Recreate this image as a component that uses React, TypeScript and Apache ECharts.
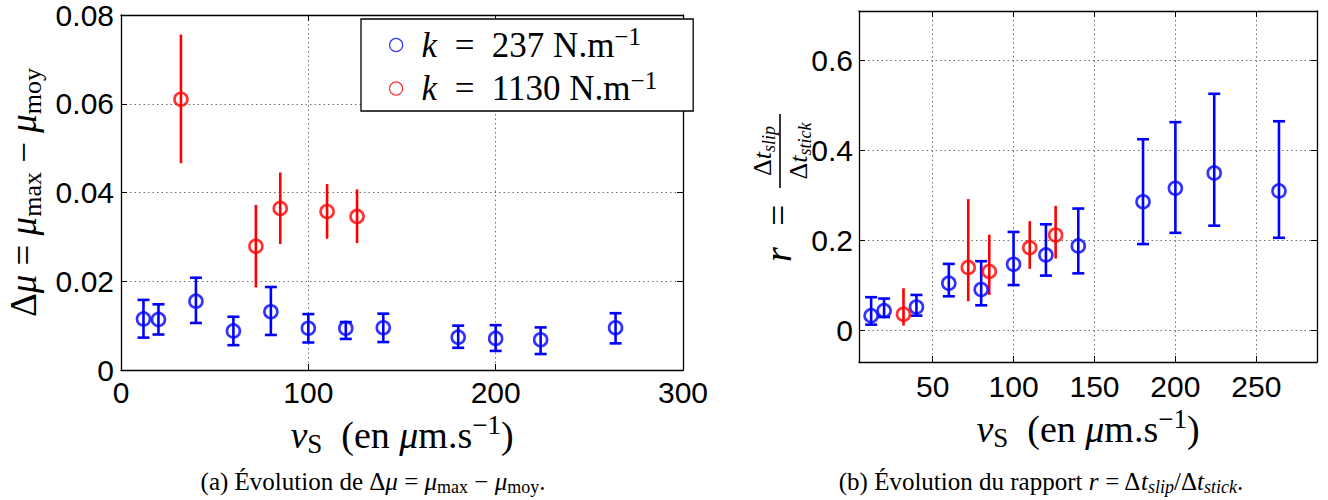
import React, { useEffect, useRef } from 'react';
import * as echarts from 'echarts';

// ---------- data ----------
// (a) Δμ = μmax − μmoy versus v_S
const blueXA = [12, 20, 40, 60, 80, 100, 120, 140, 180, 200, 224, 264];
const blueYA = [0.0115, 0.0114, 0.0155, 0.0088, 0.0131, 0.0094, 0.0094, 0.0095, 0.0074, 0.0071, 0.0068, 0.0095];
const blueLoA = [0.0073, 0.008, 0.0106, 0.0056, 0.0079, 0.0062, 0.007, 0.0063, 0.005, 0.0043, 0.0036, 0.006];
const blueHiA = [0.0158, 0.0148, 0.0208, 0.012, 0.0187, 0.0126, 0.0108, 0.0127, 0.01, 0.0101, 0.0096, 0.0128];
const redXA = [32, 72, 85, 110, 126];
const redYA = [0.061, 0.0279, 0.0364, 0.0357, 0.0346];
const redLoA = [0.0466, 0.0186, 0.0284, 0.0296, 0.0286];
const redHiA = [0.0756, 0.0372, 0.0445, 0.0419, 0.0407];

// (b) r = Δt_slip / Δt_stick versus v_S
const blueXB = [12, 20, 40, 60, 80, 100, 120, 140, 180, 200, 224, 264];
const blueYB = [0.033, 0.044, 0.052, 0.105, 0.091, 0.147, 0.168, 0.188, 0.286, 0.316, 0.35, 0.31];
const blueLoB = [0.013, 0.03, 0.033, 0.076, 0.056, 0.101, 0.122, 0.127, 0.192, 0.217, 0.233, 0.206];
const blueHiB = [0.074, 0.071, 0.079, 0.148, 0.154, 0.219, 0.236, 0.271, 0.425, 0.463, 0.526, 0.465];
const redXB = [32, 72, 85, 110, 126];
const redYB = [0.036, 0.14, 0.131, 0.184, 0.212];
const redLoB = [0.011, 0.065, 0.079, 0.137, 0.16];
const redHiB = [0.094, 0.292, 0.213, 0.243, 0.277];

// axes / ticks
const xTicksA = [0, 100, 200, 300];
const yTicksA = [0, 0.02, 0.04, 0.06, 0.08];
const xTicksB = [50, 100, 150, 200, 250];
const yTicksB = [0, 0.2, 0.4, 0.6];
const xRangeB = [4.5, 287.5];
const yRangeB = [-0.07, 0.71];

// legend
const stiffness = [237, 1130];
const seriesNames = stiffness.map((k) => `k = ${k} N.m⁻¹`);

const BLUE = '#0000ff';
const RED = '#ff0000';
const SANS = "'Liberation Sans', Arial, Helvetica, sans-serif";
const SERIF = "'Liberation Serif', 'Times New Roman', serif";

function richSet(size: number) {
  const lh = Math.round(size * 1.2);
  const small = Math.round(size * 0.7);
  return {
    n: { fontFamily: SERIF, fontSize: size, lineHeight: lh, color: '#000' },
    i: { fontFamily: SERIF, fontSize: size, lineHeight: lh, fontStyle: 'italic', color: '#000' },
    sub: { fontFamily: SERIF, fontSize: small, lineHeight: small, verticalAlign: 'bottom', color: '#000' },
    subi: { fontFamily: SERIF, fontSize: small, lineHeight: small, verticalAlign: 'bottom', fontStyle: 'italic', color: '#000' },
    sup: { fontFamily: SERIF, fontSize: small, lineHeight: small, verticalAlign: 'top', color: '#000' },
    g: { width: 14, fontSize: size, lineHeight: lh },
  };
}

const xTitle = '{i|v}{sub|S}{n|  (en }{i|μ}{n|m.s}{sup|−1}{n|)}';

function errorSeries(xs: number[], lo: number[], hi: number[], color: string, caps: boolean, axisIndex: number) {
  return {
    type: 'custom',
    xAxisIndex: axisIndex,
    yAxisIndex: axisIndex,
    silent: true,
    z: 2,
    data: xs.map((x, k) => [x, lo[k], hi[k]]),
    encode: { x: 0, y: [1, 2] },
    renderItem: (params: any, api: any) => {
      const x = api.value(0);
      const top = api.coord([x, api.value(2)]);
      const bot = api.coord([x, api.value(1)]);
      const st = { stroke: color, lineWidth: 2.6 };
      const children: any[] = [
        { type: 'line', shape: { x1: top[0], y1: top[1], x2: bot[0], y2: bot[1] }, style: st },
      ];
      if (caps) {
        const w = 6;
        children.push({ type: 'line', shape: { x1: top[0] - w, y1: top[1], x2: top[0] + w, y2: top[1] }, style: st });
        children.push({ type: 'line', shape: { x1: bot[0] - w, y1: bot[1], x2: bot[0] + w, y2: bot[1] }, style: st });
      }
      return { type: 'group', children };
    },
  };
}

function pointSeries(name: string, xs: number[], ys: number[], color: string, axisIndex: number) {
  return {
    type: 'scatter',
    name,
    xAxisIndex: axisIndex,
    yAxisIndex: axisIndex,
    symbol: 'circle',
    symbolSize: 13,
    z: 3,
    itemStyle: { color: 'rgba(0,0,0,0)', borderColor: color, borderWidth: 2.6 },
    data: xs.map((x, k) => [x, ys[k]]),
  };
}

const gridLine = { show: true, lineStyle: { color: '#707070', type: [1.5, 3], width: 1 } };
const axisLine = { show: true, onZero: false, lineStyle: { color: '#000', width: 1.3 } };
const axisTick = { show: true, inside: true, length: 6, lineStyle: { color: '#000', width: 1 } };
const tickLabel = { color: '#000', fontSize: 30, fontFamily: SANS };

export default function App() {
  const ref = useRef<HTMLDivElement>(null);

  useEffect(() => {
    if (!ref.current) return;
    const chart = echarts.init(ref.current, null, { renderer: 'svg' });

    const xa = {
      min: xTicksA[0],
      max: xTicksA[xTicksA.length - 1],
      interval: xTicksA[1] - xTicksA[0],
    };
    const ya = {
      min: yTicksA[0],
      max: yTicksA[yTicksA.length - 1],
      interval: yTicksA[1] - yTicksA[0],
    };
    const xb = {
      min: xRangeB[0],
      max: xRangeB[1],
      splitNumber: 5,
      minInterval: xTicksB[1] - xTicksB[0],
      maxInterval: xTicksB[1] - xTicksB[0],
    };
    const yb = {
      min: yRangeB[0],
      max: yRangeB[1],
      splitNumber: 4,
      minInterval: yTicksB[1] - yTicksB[0],
      maxInterval: yTicksB[1] - yTicksB[0],
    };

    const captionStyle = {
      rich: richSet(25),
      fontSize: 25,
      fontFamily: SERIF,
      fill: '#000',
      align: 'center',
      textAlign: 'center',
      verticalAlign: 'middle',
      textVerticalAlign: 'middle',
    };

    const option: any = {
      animation: false,
      backgroundColor: '#fff',
      grid: [
        { left: 121, top: 15, width: 562, height: 355 },
        { left: 859, top: 11, width: 458, height: 351 },
      ],
      xAxis: [
        {
          type: 'value', gridIndex: 0, position: 'bottom', ...xa,
          axisLine, axisTick, splitLine: gridLine,
          axisLabel: { ...tickLabel, margin: 7 },
          name: xTitle, nameLocation: 'middle', nameGap: 30,
          nameTextStyle: { fontSize: 38, fontFamily: SERIF, color: '#000', rich: richSet(38) },
        },
        {
          type: 'value', gridIndex: 0, position: 'top', ...xa,
          axisLine, axisTick, splitLine: { show: false }, axisLabel: { show: false },
        },
        {
          type: 'value', gridIndex: 1, position: 'bottom', ...xb,
          axisLine, axisTick, splitLine: gridLine,
          axisLabel: { ...tickLabel, margin: 9, showMinLabel: false, showMaxLabel: false },
          name: xTitle, nameLocation: 'middle', nameGap: 35,
          nameTextStyle: { fontSize: 38, fontFamily: SERIF, color: '#000', rich: richSet(38) },
        },
        {
          type: 'value', gridIndex: 1, position: 'top', ...xb,
          axisLine, axisTick, splitLine: { show: false }, axisLabel: { show: false },
        },
      ],
      yAxis: [
        {
          type: 'value', gridIndex: 0, position: 'left', ...ya,
          axisLine, axisTick, splitLine: gridLine,
          axisLabel: { ...tickLabel, margin: 7 },
          name: '{n|Δ}{i|μ}{n| = }{i|μ}{sub|max}{n| − }{i|μ}{sub|moy}',
          nameLocation: 'middle', nameGap: 76,
          nameTextStyle: { fontSize: 37, fontFamily: SERIF, color: '#000', rich: richSet(37) },
        },
        {
          type: 'value', gridIndex: 0, position: 'right', ...ya,
          axisLine, axisTick, splitLine: { show: false }, axisLabel: { show: false },
        },
        {
          type: 'value', gridIndex: 1, position: 'left', ...yb,
          axisLine, axisTick, splitLine: gridLine,
          axisLabel: { ...tickLabel, margin: 6, showMinLabel: false, showMaxLabel: false },
        },
        {
          type: 'value', gridIndex: 1, position: 'right', ...yb,
          axisLine, axisTick, splitLine: { show: false }, axisLabel: { show: false },
        },
      ],
      legend: {
        data: seriesNames,
        orient: 'vertical',
        left: 361,
        top: 19,
        selectedMode: false,
        icon: 'circle',
        itemWidth: 13,
        itemHeight: 13,
        itemGap: 5,
        padding: [5, 36, 5, 28],
        backgroundColor: '#fff',
        borderColor: '#000',
        borderWidth: 1.3,
        itemStyle: { borderWidth: 1.2 },
        formatter: (name: string) => {
          const k = stiffness[seriesNames.indexOf(name)];
          return `{g| }{i|k}{n|  =  ${k} N.m}{sup|−1}`;
        },
        textStyle: { fontSize: 35, fontFamily: SERIF, color: '#000', rich: richSet(35) },
      },
      graphic: [
        {
          type: 'text',
          x: 373,
          y: 481,
          style: {
            ...captionStyle,
            text: '{n|(a) Évolution de Δ}{i|μ}{n| = }{i|μ}{sub|max}{n| − }{i|μ}{sub|moy}{n|.}',
          },
        },
        {
          type: 'text',
          x: 1041,
          y: 481,
          style: {
            ...captionStyle,
            text: '{n|(b) Évolution du rapport }{i|r}{n| = Δ}{i|t}{subi|slip}{n|/Δ}{i|t}{subi|stick}{n|.}',
          },
        },
        {
          type: 'group',
          x: 780,
          y: 262,
          rotation: Math.PI / 2,
          children: [
            {
              type: 'text', x: 0, y: -2,
              style: { text: 'r', fontSize: 38, fontStyle: 'italic', fontFamily: SERIF, fill: '#000', align: 'left', textAlign: 'left', verticalAlign: 'middle', textVerticalAlign: 'middle' },
            },
            {
              type: 'text', x: 36, y: -2,
              style: { text: '=', fontSize: 38, fontFamily: SERIF, fill: '#000', align: 'left', textAlign: 'left', verticalAlign: 'middle', textVerticalAlign: 'middle' },
            },
            { type: 'line', shape: { x1: 74, y1: 0, x2: 148, y2: 0 }, style: { stroke: '#000', lineWidth: 1.6 } },
            {
              type: 'text', x: 111, y: -2,
              style: {
                text: '{n|Δ}{i|t}{subi|slip}', rich: richSet(26), fontSize: 26, fontFamily: SERIF, fill: '#000',
                align: 'center', textAlign: 'center', verticalAlign: 'bottom', textVerticalAlign: 'bottom',
              },
            },
            {
              type: 'text', x: 111, y: 3,
              style: {
                text: '{n|Δ}{i|t}{subi|stick}', rich: richSet(26), fontSize: 26, fontFamily: SERIF, fill: '#000',
                align: 'center', textAlign: 'center', verticalAlign: 'top', textVerticalAlign: 'top',
              },
            },
          ],
        },
      ],
      series: [
        errorSeries(blueXA, blueLoA, blueHiA, BLUE, true, 0),
        errorSeries(redXA, redLoA, redHiA, RED, false, 0),
        pointSeries(seriesNames[0], blueXA, blueYA, BLUE, 0),
        pointSeries(seriesNames[1], redXA, redYA, RED, 0),
        errorSeries(blueXB, blueLoB, blueHiB, BLUE, true, 2),
        errorSeries(redXB, redLoB, redHiB, RED, false, 2),
        pointSeries(seriesNames[0], blueXB, blueYB, BLUE, 2),
        pointSeries(seriesNames[1], redXB, redYB, RED, 2),
      ],
    };

    chart.setOption(option);
    return () => chart.dispose();
  }, []);

  return <div ref={ref} style={{ position: 'absolute', left: 0, top: 0, width: 1328, height: 500 }} />;
}
